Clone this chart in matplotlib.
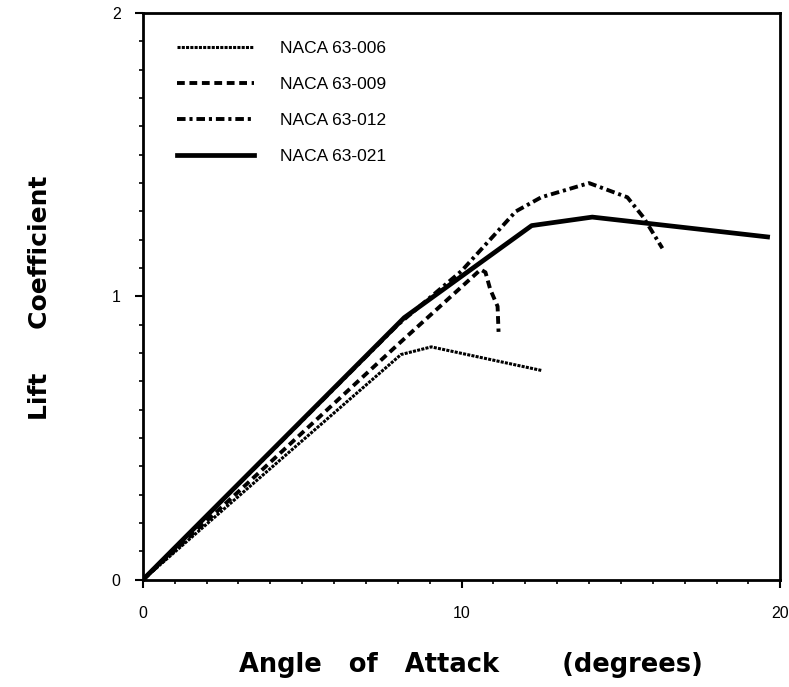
import matplotlib
matplotlib.use("Agg")
import matplotlib.pyplot as plt
from matplotlib.ticker import MultipleLocator

plt.rcParams['font.family'] = ['Liberation Sans', 'DejaVu Sans']

# Data
x_006 = [0, 8.1, 9.05, 12.5]
y_006 = [0, 0.795, 0.822, 0.739]

x_009 = [0, 8.0, 10.6, 10.75, 10.9, 11.13, 11.16]
y_009 = [0, 0.83, 1.095, 1.085, 1.025, 0.965, 0.875]

x_012 = [0, 8.0, 10.0, 11.7, 12.5, 14.0, 15.2, 15.7, 16.3]
y_012 = [0, 0.90, 1.09, 1.30, 1.35, 1.40, 1.35, 1.28, 1.17]

x_021 = [0, 8.2, 12.2, 14.1, 19.6]
y_021 = [0, 0.925, 1.25, 1.28, 1.21]

labels = ["NACA 63-006", "NACA 63-009", "NACA 63-012", "NACA 63-021"]

fig = plt.figure(figsize=(7.89, 6.87), dpi=100)
ax = fig.add_axes([0.181, 0.156, 0.808, 0.825])

ax.plot(x_006, y_006, color='black', lw=2.2, linestyle=(0, (1, 0.4)), label=labels[0])
ax.plot(x_009, y_009, color='black', lw=2.8, linestyle=(0, (2.0, 1.2)), label=labels[1])
ax.plot(x_012, y_012, color='black', lw=2.8, linestyle=(0, (2.2, 1.0, 0.8, 1.0)), label=labels[2])
ax.plot(x_021, y_021, color='black', lw=3.4, linestyle='-', label=labels[3])

ax.set_xlim(0, 20)
ax.set_ylim(0, 2)
ax.xaxis.set_major_locator(MultipleLocator(10))
ax.xaxis.set_minor_locator(MultipleLocator(1))
ax.yaxis.set_major_locator(MultipleLocator(1))
ax.yaxis.set_minor_locator(MultipleLocator(0.1))
ax.tick_params(which='major', direction='out', length=6, width=1.5, labelsize=11.5)
ax.tick_params(axis='x', which='major', pad=13)
ax.tick_params(axis='y', which='major', pad=10)
ax.tick_params(which='minor', direction='out', length=3, width=1.2)
for s in ax.spines.values():
    s.set_linewidth(2)

ax.set_xlabel("Angle   of   Attack       (degrees)", fontsize=18.5, fontweight='bold',
              family=['DejaVu Sans'])
ax.xaxis.set_label_coords(0.515, -0.127)
ax.set_ylabel("Lift     Coefficient", fontsize=18, fontweight='bold',
              family=['DejaVu Sans'])
ax.yaxis.set_label_coords(-0.143, 0.497)

leg = ax.legend(loc='upper left', frameon=False, fontsize=12.5, handlelength=4.4,
                handletextpad=1.5, labelspacing=1.2, borderaxespad=0.3,
                bbox_to_anchor=(0.035, 0.972))

fig.savefig("out.png", dpi=100)
